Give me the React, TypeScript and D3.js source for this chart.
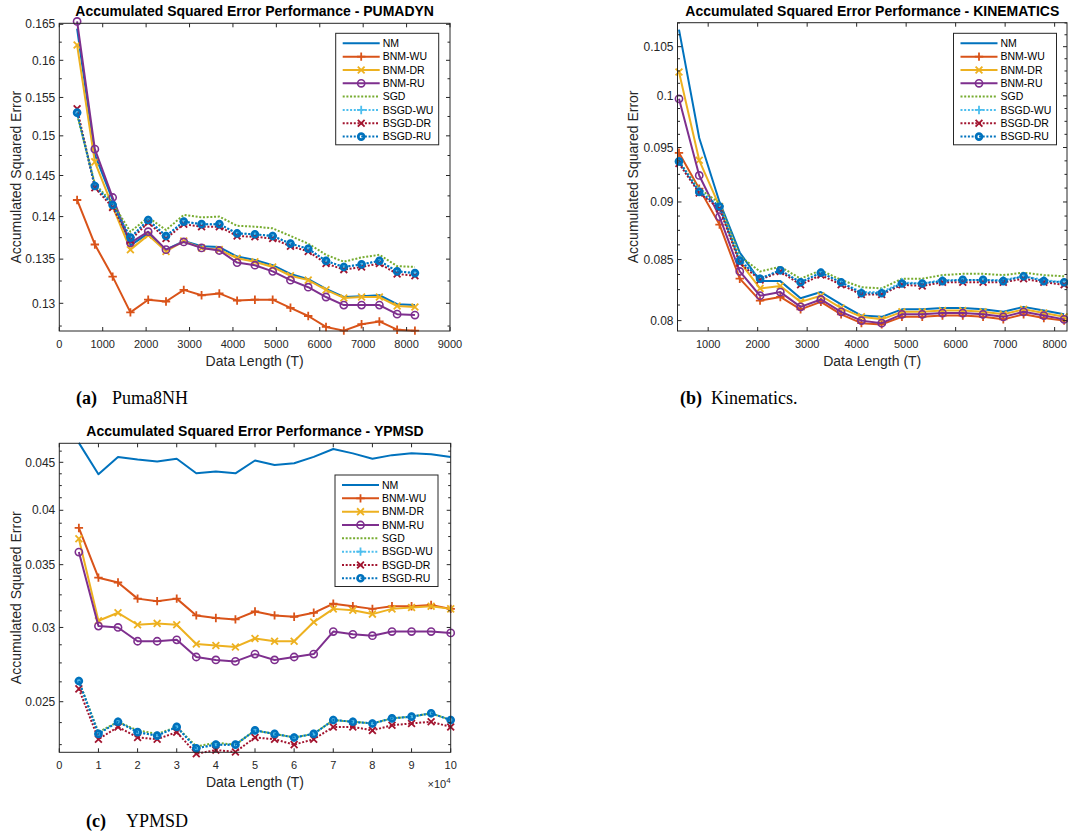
import * as d3 from "d3";

const seriesNames = ["NM", "BNM-WU", "BNM-DR", "BNM-RU", "SGD", "BSGD-WU", "BSGD-DR", "BSGD-RU"];

// (a) Puma8NH
const pumaT = [410, 819, 1229, 1638, 2048, 2458, 2867, 3277, 3686, 4096, 4506, 4915, 5325, 5734, 6144, 6554, 6963, 7373, 7782, 8192];
const pumaNM = [0.1644, 0.1476, 0.142, 0.1366, 0.138, 0.1361, 0.1371, 0.1365, 0.1364, 0.1353, 0.1349, 0.1343, 0.1333, 0.1327, 0.1316, 0.1307, 0.1308, 0.1309, 0.1299, 0.1298];
const pumaBNMWU = [0.142, 0.1367, 0.133, 0.129, 0.1304, 0.1302, 0.1315, 0.1309, 0.1311, 0.1303, 0.1304, 0.1304, 0.1295, 0.1286, 0.1274, 0.127, 0.1277, 0.128, 0.1271, 0.127];
const pumaBNMDR = [0.1621, 0.1467, 0.1412, 0.1361, 0.1378, 0.1359, 0.1371, 0.1363, 0.1361, 0.1351, 0.1347, 0.1341, 0.1331, 0.1326, 0.1315, 0.1306, 0.1307, 0.1307, 0.1297, 0.1296];
const pumaBNMRU = [0.1654, 0.1483, 0.1423, 0.1369, 0.1382, 0.1361, 0.137, 0.1363, 0.136, 0.1346, 0.1343, 0.1336, 0.1326, 0.1318, 0.1307, 0.1298, 0.1298, 0.1298, 0.1288, 0.1287];
const pumaSGD = [0.1527, 0.144, 0.1416, 0.1382, 0.1399, 0.1384, 0.1402, 0.1399, 0.14, 0.1389, 0.1388, 0.1386, 0.1377, 0.1368, 0.1355, 0.1347, 0.1352, 0.1355, 0.1342, 0.1341];
const pumaBSGDWU = [0.153, 0.1438, 0.1414, 0.1375, 0.1396, 0.1377, 0.1394, 0.1391, 0.1391, 0.138, 0.1379, 0.1377, 0.1368, 0.1362, 0.1348, 0.1341, 0.1344, 0.1348, 0.1336, 0.1334];
const pumaBSGDDR = [0.1535, 0.1435, 0.1411, 0.1372, 0.1393, 0.1374, 0.1391, 0.1388, 0.1388, 0.1377, 0.1376, 0.1374, 0.1365, 0.1359, 0.1345, 0.1338, 0.1341, 0.1345, 0.1333, 0.1331];
const pumaBSGDRU = [0.153, 0.1437, 0.1414, 0.1375, 0.1396, 0.1377, 0.1394, 0.1391, 0.1391, 0.138, 0.1379, 0.1377, 0.1368, 0.1362, 0.1348, 0.1341, 0.1344, 0.1348, 0.1336, 0.1334];
const pumaXTicks = [0, 1000, 2000, 3000, 4000, 5000, 6000, 7000, 8000, 9000];
const pumaYTicks = [0.13, 0.135, 0.14, 0.145, 0.15, 0.155, 0.16, 0.165];
const pumaYLabels = ["0.13", "0.135", "0.14", "0.145", "0.15", "0.155", "0.16", "0.165"];

// (b) Kinematics
const kinT = [410, 819, 1229, 1638, 2048, 2458, 2867, 3277, 3686, 4096, 4506, 4915, 5325, 5734, 6144, 6554, 6963, 7373, 7782, 8192];
const kinNM = [0.1068, 0.0959, 0.09, 0.0856, 0.0832, 0.0832, 0.0818, 0.0823, 0.0813, 0.0804, 0.0803, 0.0809, 0.0809, 0.081, 0.081, 0.0809, 0.0807, 0.0811, 0.0808, 0.0805];
const kinBNMWU = [0.0945, 0.0912, 0.088, 0.0834, 0.0816, 0.0819, 0.0809, 0.0815, 0.0805, 0.0798, 0.0797, 0.0803, 0.0803, 0.0804, 0.0804, 0.0803, 0.0801, 0.0805, 0.0802, 0.08];
const kinBNMDR = [0.1024, 0.0938, 0.0896, 0.0848, 0.0826, 0.0828, 0.0815, 0.082, 0.081, 0.0803, 0.0801, 0.0807, 0.0807, 0.0808, 0.0808, 0.0807, 0.0805, 0.0809, 0.0806, 0.0803];
const kinBNMRU = [0.0997, 0.0924, 0.0887, 0.084, 0.082, 0.0823, 0.0811, 0.0817, 0.0807, 0.08, 0.0798, 0.0805, 0.0805, 0.0806, 0.0806, 0.0805, 0.0803, 0.0807, 0.0804, 0.0801];
const kinSGD = [0.0937, 0.0912, 0.0899, 0.0853, 0.084, 0.0844, 0.0834, 0.0841, 0.0833, 0.0827, 0.0826, 0.0834, 0.0834, 0.0837, 0.0838, 0.0838, 0.0837, 0.0839, 0.0837, 0.0836];
const kinBSGDWU = [0.0937, 0.091, 0.0896, 0.085, 0.0834, 0.0841, 0.0831, 0.0839, 0.0831, 0.0823, 0.0823, 0.0831, 0.083, 0.0833, 0.0833, 0.0833, 0.0833, 0.0836, 0.0833, 0.0831];
const kinBSGDDR = [0.0935, 0.0908, 0.0894, 0.0847, 0.0833, 0.084, 0.0829, 0.0837, 0.0829, 0.0821, 0.0821, 0.0829, 0.0828, 0.0831, 0.0831, 0.0831, 0.0831, 0.0834, 0.0831, 0.0829];
const kinBSGDRU = [0.0937, 0.0909, 0.0896, 0.0849, 0.0834, 0.0841, 0.0831, 0.0839, 0.0831, 0.0822, 0.0822, 0.083, 0.083, 0.0832, 0.0833, 0.0833, 0.0832, 0.0836, 0.0832, 0.0831];
const kinXTicks = [1000, 2000, 3000, 4000, 5000, 6000, 7000, 8000];
const kinYTicks = [0.08, 0.085, 0.09, 0.095, 0.1, 0.105];
const kinYLabels = ["0.08", "0.085", "0.09", "0.095", "0.1", "0.105"];

// (c) YPMSD
const ypT = [5000, 10000, 15000, 20000, 25000, 30000, 35000, 40000, 45000, 50000, 55000, 60000, 65000, 70000, 75000, 80000, 85000, 90000, 95000, 100000];
const ypNM = [0.0472, 0.0437, 0.0456, 0.0453, 0.0451, 0.0454, 0.0438, 0.044, 0.0438, 0.0452, 0.0447, 0.0449, 0.0456, 0.0465, 0.046, 0.0454, 0.0458, 0.046, 0.0459, 0.0456];
const ypBNMWU = [0.0383, 0.0339, 0.0335, 0.0322, 0.032, 0.0322, 0.0309, 0.0307, 0.0306, 0.0312, 0.0309, 0.0308, 0.0311, 0.0318, 0.0316, 0.0314, 0.0316, 0.0316, 0.0317, 0.0314];
const ypBNMDR = [0.0373, 0.0305, 0.0311, 0.0302, 0.0303, 0.0302, 0.0288, 0.0287, 0.0286, 0.0292, 0.029, 0.029, 0.0304, 0.0314, 0.0313, 0.031, 0.0314, 0.0315, 0.0316, 0.0314];
const ypBNMRU = [0.0361, 0.0301, 0.03, 0.029, 0.029, 0.0291, 0.0279, 0.0277, 0.0276, 0.0281, 0.0277, 0.0279, 0.0281, 0.0297, 0.0295, 0.0294, 0.0297, 0.0297, 0.0297, 0.0296];
const ypSGD = [0.0263, 0.0232, 0.0238, 0.0233, 0.0231, 0.0235, 0.0224, 0.0226, 0.0225, 0.0233, 0.0231, 0.0229, 0.0231, 0.0239, 0.0238, 0.0237, 0.024, 0.0241, 0.0243, 0.0239];
const ypBSGDWU = [0.0263, 0.0231, 0.0238, 0.0232, 0.023, 0.0235, 0.0223, 0.0225, 0.0225, 0.0233, 0.0231, 0.0229, 0.0231, 0.0239, 0.0238, 0.0237, 0.024, 0.0241, 0.0243, 0.0239];
const ypBSGDDR = [0.0258, 0.0228, 0.0235, 0.0229, 0.0228, 0.0232, 0.022, 0.0222, 0.0221, 0.0229, 0.0228, 0.0225, 0.0228, 0.0235, 0.0235, 0.0233, 0.0236, 0.0237, 0.0238, 0.0235];
const ypBSGDRU = [0.0263, 0.0231, 0.0238, 0.0232, 0.023, 0.0235, 0.0223, 0.0225, 0.0225, 0.0233, 0.0231, 0.0229, 0.0231, 0.0239, 0.0238, 0.0237, 0.024, 0.0241, 0.0243, 0.0239];
const ypXTicks = [0, 10000, 20000, 30000, 40000, 50000, 60000, 70000, 80000, 90000, 100000];
const ypXLabels = ["0", "1", "2", "3", "4", "5", "6", "7", "8", "9", "10"];
const ypYTicks = [0.025, 0.03, 0.035, 0.04, 0.045];
const ypYLabels = ["0.025", "0.03", "0.035", "0.04", "0.045"];

const AXIS = "#262626";
const SANS = "'Liberation Sans', Arial, Helvetica, sans-serif";
const SERIF = "'Liberation Serif', 'Times New Roman', serif";
const DOT = "2 1.7";

const styles = [
  { color: "#0072BD", dash: "", marker: "" },
  { color: "#D95319", dash: "", marker: "+" },
  { color: "#EDB120", dash: "", marker: "x" },
  { color: "#7E2F8E", dash: "", marker: "o" },
  { color: "#77AC30", dash: DOT, marker: "" },
  { color: "#4DBEEE", dash: DOT, marker: "+" },
  { color: "#A2142F", dash: DOT, marker: "x" },
  { color: "#0072BD", dash: DOT, marker: "o" },
];

function Marker({ type, x, y, color, dotted }: any) {
  if (type === "+")
    return <path d={`M${x - 4.2},${y}H${x + 4.2}M${x},${y - 4.2}V${y + 4.2}`} stroke={color} strokeWidth={1.8} fill="none" />;
  if (type === "x")
    return <path d={`M${x - 3.4},${y - 3.4}L${x + 3.4},${y + 3.4}M${x - 3.4},${y + 3.4}L${x + 3.4},${y - 3.4}`} stroke={color} strokeWidth={1.8} fill="none" />;
  if (type === "o")
    return <circle cx={x} cy={y} r={dotted ? 3 : 3.6} stroke={color} strokeWidth={dotted ? 2.6 : 1.6} fill="none" />;
  return null;
}

function Panel({ p }: any) {
  const x = d3.scaleLinear().domain(p.xDomain).range([p.left, p.right]);
  const y = d3.scaleLog().domain(p.yDomain).range([p.bottom, p.top]);
  const line = d3
    .line<number>()
    .x((_, i) => x(p.x[i]))
    .y((d) => y(d));

  const minor: number[] = [];
  const k0 = Math.ceil(p.yDomain[0] / p.minorStep);
  const k1 = Math.floor(p.yDomain[1] / p.minorStep);
  for (let k = k0; k <= k1; k++) {
    const v = k * p.minorStep;
    if (!p.yTicks.some((t: number) => Math.abs(t - v) < 1e-9)) minor.push(v);
  }
  const cx = (p.left + p.right) / 2;
  const cy = (p.top + p.bottom) / 2;

  return (
    <g>
      <rect x={p.left} y={p.top} width={p.right - p.left} height={p.bottom - p.top} fill="#fff" />
      {p.series.map((s: number[], si: number) => (
        <g key={si}>
          <path
            d={line(s) || ""}
            fill="none"
            stroke={styles[si].color}
            strokeWidth={2}
            strokeDasharray={styles[si].dash || undefined}
            strokeLinejoin="round"
          />
          {s.map((v, i) => (
            <Marker key={i} type={styles[si].marker} x={x(p.x[i])} y={y(v)} color={styles[si].color} dotted={!!styles[si].dash} />
          ))}
        </g>
      ))}
      <rect x={p.left} y={p.top} width={p.right - p.left} height={p.bottom - p.top} fill="none" stroke={AXIS} strokeWidth={1} />
      {p.xTicks.map((t: number, i: number) => (
        <g key={"x" + i}>
          <line x1={x(t)} x2={x(t)} y1={p.bottom} y2={p.bottom - 4} stroke={AXIS} />
          <line x1={x(t)} x2={x(t)} y1={p.top} y2={p.top + 4} stroke={AXIS} />
          <text x={x(t)} y={p.bottom + 17} textAnchor="middle" fontSize={11} fontFamily={SANS} fill={AXIS}>
            {p.xLabels[i]}
          </text>
        </g>
      ))}
      {p.yTicks.map((t: number, i: number) => (
        <g key={"y" + i}>
          <line x1={p.left} x2={p.left + 4} y1={y(t)} y2={y(t)} stroke={AXIS} />
          <line x1={p.right} x2={p.right - 4} y1={y(t)} y2={y(t)} stroke={AXIS} />
          <text x={p.left - 4} y={y(t)} dy="0.35em" textAnchor="end" fontSize={12} fontFamily={SANS} fill={AXIS}>
            {p.yLabels[i]}
          </text>
        </g>
      ))}
      {minor.map((t, i) => (
        <g key={"m" + i}>
          <line x1={p.left} x2={p.left + 2.5} y1={y(t)} y2={y(t)} stroke={AXIS} />
          <line x1={p.right} x2={p.right - 2.5} y1={y(t)} y2={y(t)} stroke={AXIS} />
        </g>
      ))}
      <text x={cx} y={p.top - 7} textAnchor="middle" fontSize={14} fontWeight="bold" fontFamily={SANS} fill="#000">
        {p.title}
      </text>
      <text x={cx} y={p.bottom + 35} textAnchor="middle" fontSize={14} fontFamily={SANS} fill={AXIS}>
        Data Length (T)
      </text>
      <text transform={`translate(${p.ylabelX},${cy}) rotate(-90)`} textAnchor="middle" fontSize={14} fontFamily={SANS} fill={AXIS}>
        Accumulated Squared Error
      </text>
      {p.exponent && (
        <text x={p.right} y={p.bottom + 36} textAnchor="end" fontSize={11} fontFamily={SANS} fill={AXIS}>
          ×10<tspan dy={-5} fontSize={8}>4</tspan>
        </text>
      )}
      <rect x={p.legend[0]} y={p.legend[1]} width={103} height={111.5} fill="#fff" stroke={AXIS} strokeWidth={1} />
      {seriesNames.map((name, i) => {
        const ly = p.legend[1] + 10 + i * 13.33;
        const lx = p.legend[0];
        return (
          <g key={"l" + i}>
            <line x1={lx + 7} x2={lx + 44} y1={ly} y2={ly} stroke={styles[i].color} strokeWidth={2} strokeDasharray={styles[i].dash || undefined} />
            <Marker type={styles[i].marker} x={lx + 25.5} y={ly} color={styles[i].color} dotted={!!styles[i].dash} />
            <text x={lx + 47} y={ly} dy="0.35em" fontSize={10.5} fontFamily={SANS} fill="#000">
              {name}
            </text>
          </g>
        );
      })}
      <text x={p.caption[0]} y={p.caption[1]} fontSize={18} fontFamily={SERIF} fill="#000">
        <tspan fontWeight="bold">{p.captionTag}</tspan>
        <tspan x={p.caption[2]}>{p.captionText}</tspan>
      </text>
    </g>
  );
}

const panels = [
  {
    title: "Accumulated Squared Error Performance - PUMADYN",
    captionTag: "(a)",
    captionText: "Puma8NH",
    caption: [76, 404, 112],
    x: pumaT,
    series: [pumaNM, pumaBNMWU, pumaBNMDR, pumaBNMRU, pumaSGD, pumaBSGDWU, pumaBSGDDR, pumaBSGDRU],
    left: 59.3, right: 450, top: 23.3, bottom: 331,
    xDomain: [0, 9000], yDomain: [0.12696, 0.16514],
    xTicks: pumaXTicks, xLabels: pumaXTicks.map(String),
    yTicks: pumaYTicks, yLabels: pumaYLabels, minorStep: 0.0025,
    legend: [335.7, 33.3], ylabelX: 20.5, exponent: false,
  },
  {
    title: "Accumulated Squared Error Performance - KINEMATICS",
    captionTag: "(b)",
    captionText: "Kinematics.",
    caption: [680, 404, 711],
    x: kinT,
    series: [kinNM, kinBNMWU, kinBNMDR, kinBNMRU, kinSGD, kinBSGDWU, kinBSGDDR, kinBSGDRU],
    left: 677.5, right: 1067, top: 22.7, bottom: 331,
    xDomain: [380, 8250], yDomain: [0.07918, 0.10753],
    xTicks: kinXTicks, xLabels: kinXTicks.map(String),
    yTicks: kinYTicks, yLabels: kinYLabels, minorStep: 0.00125,
    legend: [953.5, 33.3], ylabelX: 638, exponent: false,
  },
  {
    title: "Accumulated Squared Error Performance - YPMSD",
    captionTag: "(c)",
    captionText: "YPMSD",
    caption: [86, 827, 126],
    x: ypT,
    series: [ypNM, ypBNMWU, ypBNMDR, ypBNMRU, ypSGD, ypBSGDWU, ypBSGDDR, ypBSGDRU],
    left: 59.3, right: 450.7, top: 443.3, bottom: 752.3,
    xDomain: [0, 100000], yDomain: [0.02208, 0.04715],
    xTicks: ypXTicks, xLabels: ypXLabels,
    yTicks: ypYTicks, yLabels: ypYLabels, minorStep: 0.00125,
    legend: [335, 475], ylabelX: 20.5, exponent: true,
  },
];

export default function App() {
  return (
    <svg width={1068} height={838} style={{ position: "absolute", left: 0, top: 0, background: "#fff" }}>
      <rect width={1068} height={838} fill="#fff" />
      {panels.map((p, i) => (
        <Panel key={i} p={p} />
      ))}
    </svg>
  );
}
